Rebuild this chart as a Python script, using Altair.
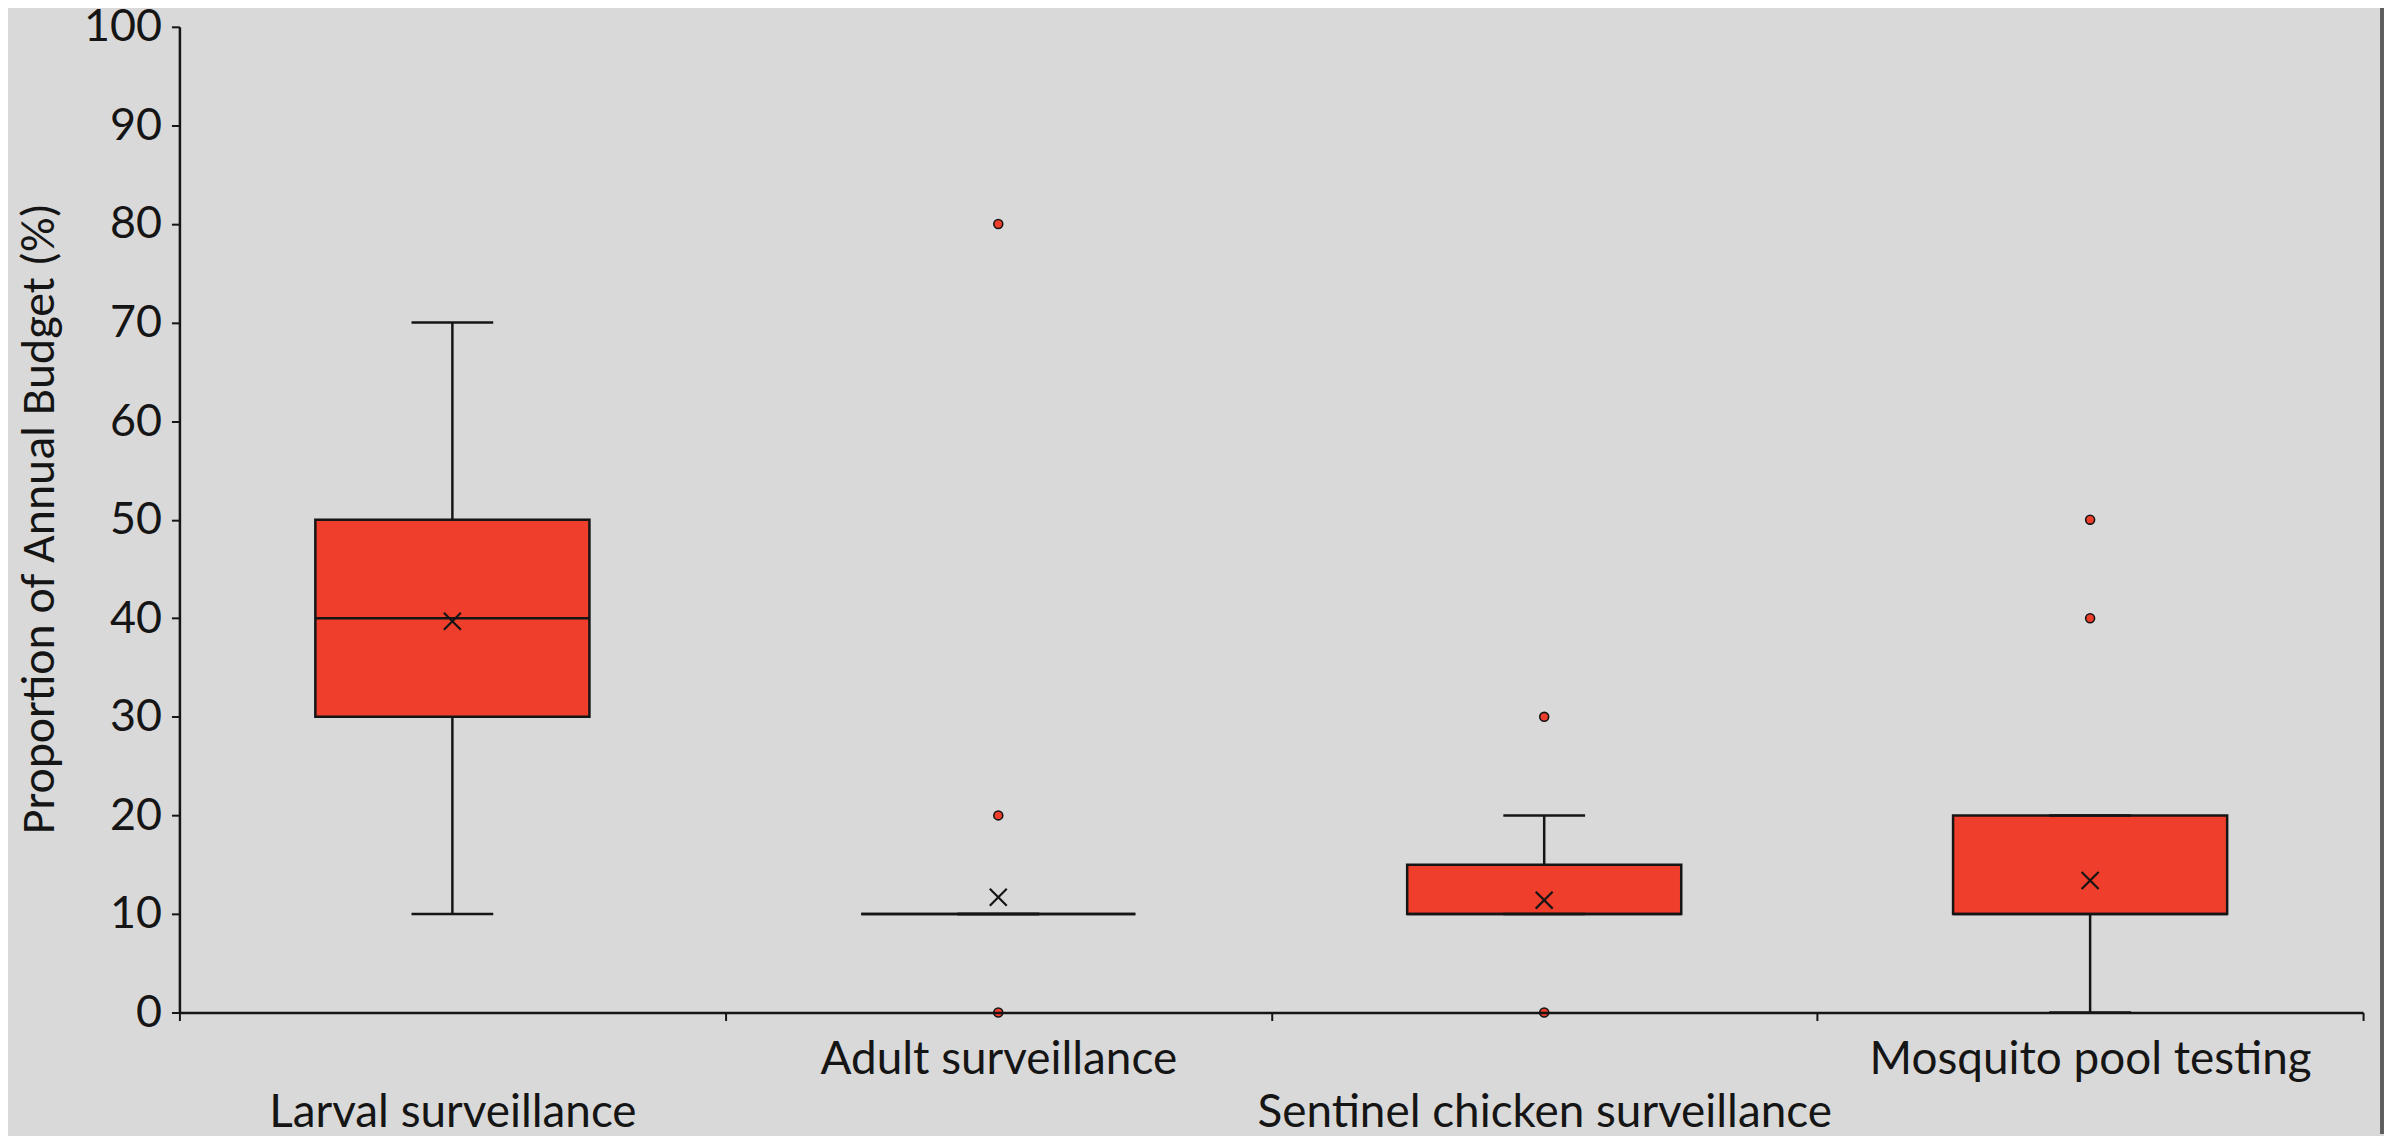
import altair as alt
import pandas as pd

# ---- data ----
categories = ["Larval surveillance", "Adult surveillance",
              "Sentinel chicken surveillance", "Mosquito pool testing"]
whisker_low = [10, 10, 10, 0]
q1 = [30, 10, 10, 10]
median = [40, 10, 10, 10]
q3 = [50, 10, 15, 20]
whisker_high = [70, 10, 20, 20]
means = [39.7, 11.7, 11.4, 13.4]

outlier_cats = ["Adult surveillance", "Adult surveillance", "Adult surveillance",
                "Sentinel chicken surveillance", "Sentinel chicken surveillance",
                "Mosquito pool testing", "Mosquito pool testing"]
outlier_vals = [80, 20, 0, 30, 0, 50, 40]

upper_row_labels = ["Adult surveillance", "Mosquito pool testing"]

# ---- styling ----
RED = "#EF3E2B"
INK = "#151515"
BG = "#D9D9D9"
TICK_FONT = "Century Gothic, Lato, sans-serif"
TITLE_FONT = "Calibri, Open Sans, sans-serif"
W, H = 2191, 989

summary = pd.DataFrame({
    "cat": categories, "low": whisker_low, "q1": q1, "median": median,
    "q3": q3, "high": whisker_high, "mean": means,
})
outliers = pd.DataFrame({"cat": outlier_cats, "value": outlier_vals})

label_expr = ("indexof(" + str(upper_row_labels) + ", datum.value) >= 0 ? "
              "[datum.value, ''] : ['', datum.value]")

x_enc = alt.X(
    "cat:N",
    sort=categories,
    scale=alt.Scale(type="band", domain=categories, paddingInner=0, paddingOuter=0),
    axis=alt.Axis(
        title=None, labelAngle=0, labelExpr=label_expr,
        labelFont=TICK_FONT, labelFontSize=46, labelColor=INK,
        labelBaseline="alphabetic", labelLineHeight=53, labelPadding=53,
        labelOverlap=False, labelBound=False, labelLimit=1000, labelFlush=False,
        tickBand="extent", tickSize=8, tickWidth=2, tickColor=INK,
        domainColor=INK, domainWidth=2.5, zindex=1,
    ),
)

y_scale = alt.Scale(domain=[0, 100], nice=False, zero=True)
y_axis = alt.Axis(
    values=list(range(0, 101, 10)),
    title="Proportion of Annual Budget (%)",
    titleFont=TITLE_FONT, titleFontSize=48, titleFontWeight="normal", titleColor=INK,
    titleAngle=270, titleAlign="center", titleBaseline="alphabetic",
    titleX=-126, titleY=493,
    labelFont=TICK_FONT, labelFontSize=45, labelColor=INK, labelPadding=10,
    labelBaseline="middle",
    tickSize=8, tickWidth=2, tickColor=INK,
    domainColor=INK, domainWidth=2.5, grid=False, zindex=1,
)

whiskers = alt.Chart(summary).mark_rule(color=INK, strokeWidth=2.5).encode(
    x=x_enc,
    y=alt.Y("low:Q", scale=y_scale, axis=y_axis),
    y2="high:Q",
)

boxes = alt.Chart(summary).mark_bar(
    size=275, color=RED, stroke=INK, strokeWidth=2.5, opacity=1
).encode(x=x_enc, y=alt.Y("q1:Q", scale=y_scale), y2="q3:Q")

medians = alt.Chart(summary).mark_tick(
    size=275, thickness=2.5, color=INK, opacity=1
).encode(x=x_enc, y=alt.Y("median:Q", scale=y_scale))

caps_hi = alt.Chart(summary).mark_tick(
    size=82, thickness=2.5, color=INK, opacity=1
).encode(x=x_enc, y=alt.Y("high:Q", scale=y_scale))

caps_lo = alt.Chart(summary).mark_tick(
    size=82, thickness=2.5, color=INK, opacity=1
).encode(x=x_enc, y=alt.Y("low:Q", scale=y_scale))

mean_marks = alt.Chart(summary).mark_point(
    shape="M-1,-1L1,1M-1,1L1,-1", size=290, filled=False,
    stroke=INK, strokeWidth=2.2, opacity=1
).encode(x=x_enc, y=alt.Y("mean:Q", scale=y_scale))

outlier_marks = alt.Chart(outliers).mark_point(
    shape="circle", size=80, filled=True, fill=RED,
    stroke=INK, strokeWidth=1.6, opacity=1
).encode(x=x_enc, y=alt.Y("value:Q", scale=y_scale))

edge = alt.Chart(summary).mark_rule(color="#5c5c5c", strokeWidth=3).encode(
    x=alt.value(2210), y=alt.value(-25), y2=alt.value(1111)
)

chart = alt.layer(
    whiskers, boxes, medians, caps_hi, caps_lo, mean_marks, outlier_marks, edge
).properties(
    width=W, height=H,
    autosize=alt.AutoSizeParams(type="none"),
    padding={"left": 172, "top": 17, "right": 21, "bottom": 122},
    background=BG,
).configure_view(stroke=None)

chart.save("out.html", embed_options={"renderer": "svg", "actions": False})
